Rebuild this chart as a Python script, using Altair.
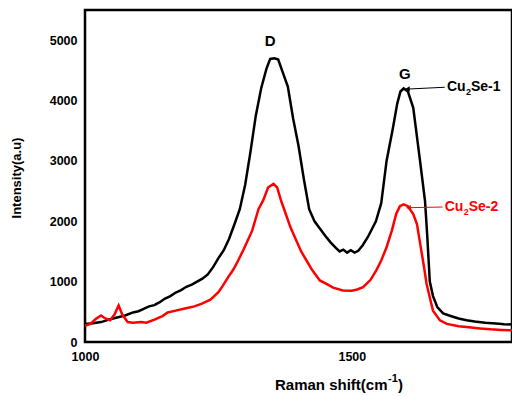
import altair as alt
import pandas as pd

# Cu2Se-1 (black) Raman spectrum
shift_1 = [1000, 1015, 1030, 1045, 1060, 1075, 1090, 1100, 1110, 1120, 1130, 1140, 1150, 1160,
           1170, 1180, 1190, 1200, 1210, 1220, 1230, 1240, 1250, 1260, 1270, 1280, 1290, 1300,
           1310, 1320, 1330, 1340, 1347, 1355, 1362, 1370, 1380, 1390, 1400, 1410, 1420, 1430,
           1440, 1450, 1460, 1470, 1477, 1484, 1491, 1498, 1505, 1512, 1520, 1530, 1545, 1555,
           1565, 1577, 1585, 1591, 1597, 1605, 1615, 1627, 1637, 1641, 1646, 1652, 1660, 1671,
           1685, 1700, 1715, 1730, 1750, 1770, 1785, 1800]
inten_1 = [300, 310, 330, 370, 405, 440, 490, 510, 550, 590, 610, 660, 720, 760,
           820, 860, 915, 950, 1000, 1050, 1120, 1240, 1390, 1520, 1710, 1950, 2200, 2600,
           3150, 3750, 4200, 4530, 4690, 4700, 4680, 4480, 4230, 3700, 3250, 2700, 2200, 2000,
           1880, 1760, 1650, 1560, 1500, 1530, 1480, 1520, 1480, 1510, 1600, 1740, 2000, 2300,
           3000, 3550, 3950, 4150, 4200, 4150, 3880, 3050, 2340, 1790, 1000, 760, 580, 475,
           430, 390, 360, 340, 320, 305, 295, 290]

# Cu2Se-2 (red) Raman spectrum
shift_2 = [1000, 1010, 1020, 1030, 1038, 1047, 1055, 1063, 1070, 1080, 1090, 1105, 1115, 1130,
           1145, 1155, 1170, 1187, 1205, 1219, 1235, 1250, 1258, 1268, 1278, 1287, 1298, 1313,
           1325, 1334, 1343, 1353, 1360, 1367, 1375, 1385, 1395, 1405, 1415, 1425, 1440,
           1455, 1465, 1483, 1500, 1510, 1521, 1535, 1546, 1555, 1565, 1575, 1583, 1590,
           1597, 1605, 1615, 1622, 1627, 1635, 1640, 1647, 1652, 1665, 1678, 1700, 1715, 1740,
           1760, 1780, 1800]
inten_2 = [270, 300, 380, 440, 390, 360, 450, 605, 450, 330, 320, 330, 320, 370,
           430, 490, 520, 555, 590, 635, 700, 825, 930, 1070, 1200, 1350, 1550, 1840,
           2200, 2350, 2560, 2620, 2560, 2350, 2150, 1900, 1700, 1500, 1350, 1200, 1020,
           950, 900, 853, 850, 870, 910, 1030, 1190, 1350, 1570, 1850, 2120, 2250,
           2280, 2250, 2120, 1950, 1680, 1250, 960, 700, 520, 358, 300, 260, 248, 225,
           210, 200, 193]

series_names = ["Cu2Se-1", "Cu2Se-2"]
series_colors = ["#000000", "#ff0000"]
x_ticks = [1000, 1500]
y_ticks = [0, 1000, 2000, 3000, 4000, 5000]

FONT = "Liberation Sans"

df = pd.concat([
    pd.DataFrame({"shift": shift_1, "intensity": inten_1, "series": series_names[0]}),
    pd.DataFrame({"shift": shift_2, "intensity": inten_2, "series": series_names[1]}),
])

xs = alt.Scale(domain=[1000, 1800], nice=False, zero=False)
ys = alt.Scale(domain=[0, 5500], nice=False)
cs = alt.Scale(domain=series_names, range=series_colors)

lines = alt.Chart(df).mark_line(strokeWidth=2.5, clip=True).encode(
    x=alt.X("shift:Q", scale=xs,
            axis=alt.Axis(values=x_ticks, title=None, ticks=False, domain=False, grid=False,
                          labelPadding=8, labelFontSize=12.5, labelFontWeight="bold",
                          labelFlush=False, labelFont=FONT, labelColor="black", format="d")),
    y=alt.Y("intensity:Q", scale=ys,
            axis=alt.Axis(values=y_ticks, title=None, ticks=False, domain=False, grid=False,
                          labelPadding=8, labelFontSize=12.5, labelFontWeight="bold",
                          labelFlush=False, labelFont=FONT, labelColor="black", format="d")),
    color=alt.Color("series:N", scale=cs, legend=None),
    order="shift:Q",
)

# peak labels
peaks = pd.DataFrame({"shift": [1347, 1599], "intensity": [4980, 4434], "label": ["D", "G"]})
peak_text = alt.Chart(peaks).mark_text(font=FONT, fontWeight="bold", fontSize=15,
                                       color="black", baseline="middle").encode(
    x=alt.X("shift:Q", scale=xs), y=alt.Y("intensity:Q", scale=ys), text="label:N")

# series labels with subscript
lab = pd.DataFrame({"shift": [1678, 1674], "intensity": [4220, 2236],
                    "series": series_names, "num": ["1", "2"]})
enc = dict(x=alt.X("shift:Q", scale=xs), y=alt.Y("intensity:Q", scale=ys),
           color=alt.Color("series:N", scale=cs, legend=None))
lab_cu = alt.Chart(lab).mark_text(font=FONT, fontWeight="bold", fontSize=14, align="left",
                                  baseline="middle").encode(text=alt.value("Cu"), **enc)
lab_sub = alt.Chart(lab).mark_text(font=FONT, fontWeight="bold", fontSize=9, align="left",
                                   baseline="middle", dx=19, dy=5).encode(text=alt.value("2"), **enc)
lab_rest = alt.Chart(lab).mark_text(font=FONT, fontWeight="bold", fontSize=14, align="left",
                                    baseline="middle", dx=24).encode(
    text=alt.Text("label:N"), **enc).transform_calculate(label="'Se-' + datum.num")

# arrows
arr = pd.DataFrame({"x1": [1674, 1670], "y1": [4220, 2236], "x2": [1604, 1606],
                    "y2": [4190, 2225], "series": series_names})
arrow_line = alt.Chart(arr).mark_rule(strokeWidth=1).encode(
    x=alt.X("x1:Q", scale=xs), x2="x2:Q", y=alt.Y("y1:Q", scale=ys), y2="y2:Q",
    color=alt.Color("series:N", scale=cs, legend=None))
arrow_head = alt.Chart(arr).mark_point(shape="triangle-left", filled=True, size=30,
                                       opacity=1).encode(
    x=alt.X("x2:Q", scale=xs), y=alt.Y("y2:Q", scale=ys),
    color=alt.Color("series:N", scale=cs, legend=None))

# axis titles
ytitle = alt.Chart(pd.DataFrame({"t": ["Intensity(a.u)"]})).mark_text(
    font=FONT, fontWeight="bold", fontSize=13, angle=270, baseline="middle", align="center",
    color="black").encode(text="t:N", x=alt.value(-68), y=alt.value(168))
xt_main = alt.Chart(pd.DataFrame({"t": ["Raman shift(cm"]})).mark_text(
    font=FONT, fontWeight="bold", fontSize=15, align="left", baseline="alphabetic",
    color="black").encode(text="t:N", x=alt.value(190), y=alt.value(380))
xt_sup = alt.Chart(pd.DataFrame({"t": ["-1"]})).mark_text(
    font=FONT, fontWeight="bold", fontSize=11, align="left", baseline="alphabetic",
    color="black").encode(text="t:N", x=alt.value(303), y=alt.value(372))
xt_end = alt.Chart(pd.DataFrame({"t": [")"]})).mark_text(
    font=FONT, fontWeight="bold", fontSize=15, align="left", baseline="alphabetic",
    color="black").encode(text="t:N", x=alt.value(313), y=alt.value(380))

chart = alt.layer(
    lines, peak_text, arrow_line, arrow_head, lab_cu, lab_sub, lab_rest,
    ytitle, xt_main, xt_sup, xt_end
).properties(
    width=427, height=332,
    autosize=alt.AutoSizeParams(type="none"),
    padding={"left": 85, "top": 10, "right": 0, "bottom": 55},
    background="white",
).configure_view(stroke="black", strokeWidth=2.5)

chart.save("out.html", embed_options={"renderer": "svg", "actions": False})
